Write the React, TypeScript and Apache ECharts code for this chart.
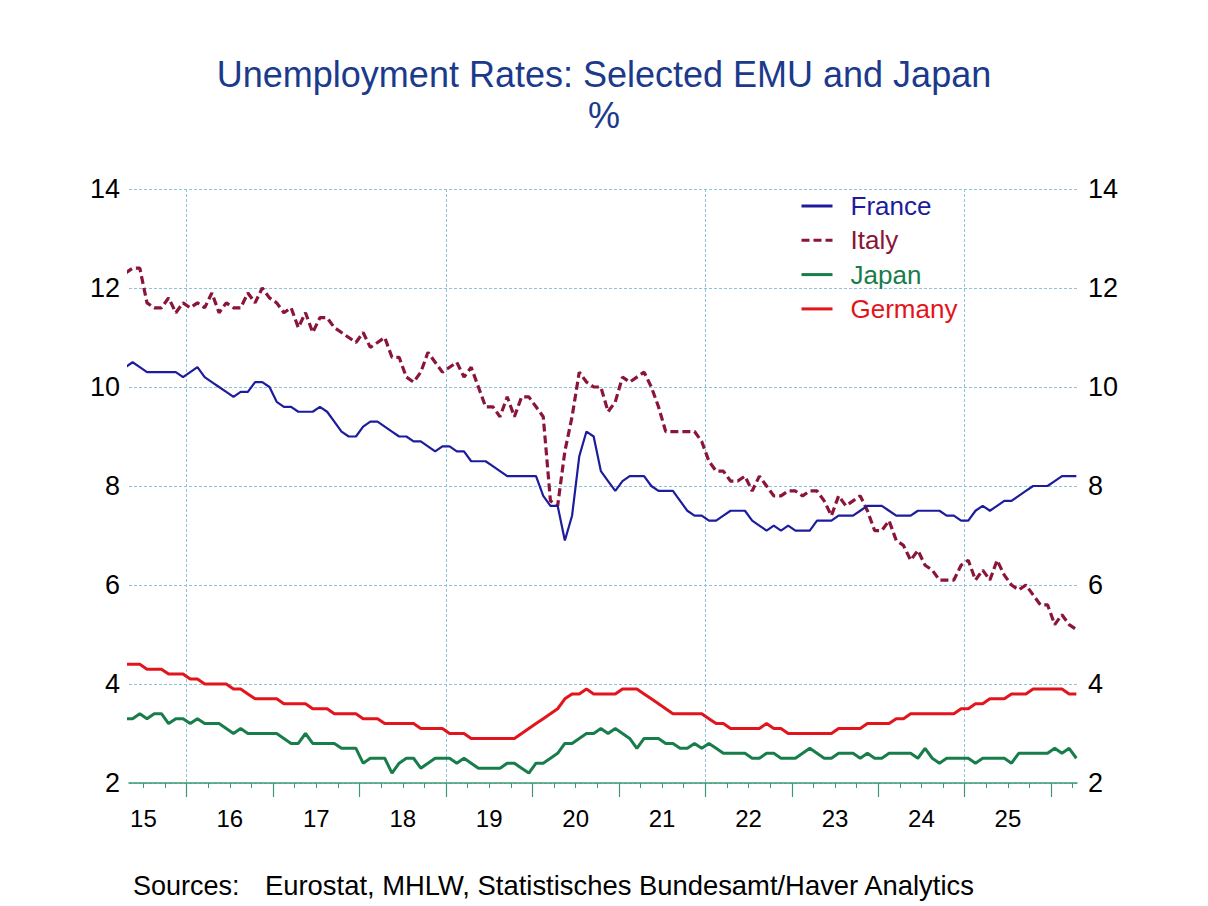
import React, { useEffect, useRef } from "react";
import * as echarts from "echarts";

// Monthly observations from Apr 2015 to Apr 2026 (percent)
const START_YEAR = 2015;
const START_MONTH = 4; // April

const france = [
  10.4, 10.5, 10.4, 10.3, 10.3, 10.3, 10.3, 10.3, 10.2, 10.3, 10.4, 10.2,
  10.1, 10.0, 9.9, 9.8, 9.9, 9.9, 10.1, 10.1, 10.0, 9.7, 9.6, 9.6,
  9.5, 9.5, 9.5, 9.6, 9.5, 9.3, 9.1, 9.0, 9.0, 9.2, 9.3, 9.3,
  9.2, 9.1, 9.0, 9.0, 8.9, 8.9, 8.8, 8.7, 8.8, 8.8, 8.7, 8.7,
  8.5, 8.5, 8.5, 8.4, 8.3, 8.2, 8.2, 8.2, 8.2, 8.2, 7.8, 7.6,
  7.6, 6.9, 7.4, 8.6, 9.1, 9.0, 8.3, 8.1, 7.9, 8.1, 8.2, 8.2,
  8.2, 8.0, 7.9, 7.9, 7.9, 7.7, 7.5, 7.4, 7.4, 7.3, 7.3, 7.4,
  7.5, 7.5, 7.5, 7.3, 7.2, 7.1, 7.2, 7.1, 7.2, 7.1, 7.1, 7.1,
  7.3, 7.3, 7.3, 7.4, 7.4, 7.4, 7.5, 7.6, 7.6, 7.6, 7.5, 7.4,
  7.4, 7.4, 7.5, 7.5, 7.5, 7.5, 7.4, 7.4, 7.3, 7.3, 7.5, 7.6,
  7.5, 7.6, 7.7, 7.7, 7.8, 7.9, 8.0, 8.0, 8.0, 8.1, 8.2, 8.2,
  8.2,
];

const italy = [
  12.3, 12.4, 12.4, 11.7, 11.6, 11.6, 11.8, 11.5, 11.7, 11.6, 11.7, 11.6,
  11.9, 11.5, 11.7, 11.6, 11.6, 11.9, 11.7, 12.0, 11.8, 11.7, 11.5, 11.6,
  11.2, 11.5, 11.1, 11.4, 11.4, 11.2, 11.1, 11.0, 10.9, 11.1, 10.8, 10.9,
  11.0, 10.6, 10.6, 10.2, 10.1, 10.3, 10.7, 10.5, 10.3, 10.4, 10.5, 10.2,
  10.4, 10.0, 9.6, 9.6, 9.4, 9.8, 9.4, 9.8, 9.8, 9.6, 9.4, 7.7,
  7.6, 8.7, 9.4, 10.3, 10.1, 10.0, 10.0, 9.5, 9.7, 10.2, 10.1, 10.2,
  10.3, 10.0, 9.6, 9.1, 9.1, 9.1, 9.1, 9.1, 8.9, 8.5, 8.3, 8.3,
  8.1, 8.1, 8.2, 7.9, 8.2, 8.0, 7.8, 7.8, 7.9, 7.9, 7.8, 7.9,
  7.9, 7.7, 7.4, 7.8, 7.6, 7.7, 7.8, 7.5, 7.1, 7.1, 7.3, 6.9,
  6.8, 6.5, 6.7, 6.4, 6.3, 6.1, 6.1, 6.1, 6.4, 6.5, 6.1, 6.3,
  6.1, 6.5, 6.2, 6.0, 5.9, 6.0, 5.8, 5.6, 5.6, 5.2, 5.4, 5.2,
  5.1,
];

const japan = [
  3.3, 3.3, 3.4, 3.3, 3.4, 3.4, 3.2, 3.3, 3.3, 3.2, 3.3, 3.2,
  3.2, 3.2, 3.1, 3.0, 3.1, 3.0, 3.0, 3.0, 3.0, 3.0, 2.9, 2.8,
  2.8, 3.0, 2.8, 2.8, 2.8, 2.8, 2.7, 2.7, 2.7, 2.4, 2.5, 2.5,
  2.5, 2.2, 2.4, 2.5, 2.5, 2.3, 2.4, 2.5, 2.5, 2.5, 2.4, 2.5,
  2.4, 2.3, 2.3, 2.3, 2.3, 2.4, 2.4, 2.3, 2.2, 2.4, 2.4, 2.5,
  2.6, 2.8, 2.8, 2.9, 3.0, 3.0, 3.1, 3.0, 3.1, 3.0, 2.9, 2.7,
  2.9, 2.9, 2.9, 2.8, 2.8, 2.7, 2.7, 2.8, 2.7, 2.8, 2.7, 2.6,
  2.6, 2.6, 2.6, 2.5, 2.5, 2.6, 2.6, 2.5, 2.5, 2.5, 2.6, 2.7,
  2.6, 2.5, 2.5, 2.6, 2.6, 2.6, 2.5, 2.6, 2.5, 2.5, 2.6, 2.6,
  2.6, 2.6, 2.5, 2.7, 2.5, 2.4, 2.5, 2.5, 2.5, 2.5, 2.4, 2.5,
  2.5, 2.5, 2.5, 2.4, 2.6, 2.6, 2.6, 2.6, 2.6, 2.7, 2.6, 2.7,
  2.5,
];

const germany = [
  4.4, 4.4, 4.4, 4.3, 4.3, 4.3, 4.2, 4.2, 4.2, 4.1, 4.1, 4.0,
  4.0, 4.0, 4.0, 3.9, 3.9, 3.8, 3.7, 3.7, 3.7, 3.7, 3.6, 3.6,
  3.6, 3.6, 3.5, 3.5, 3.5, 3.4, 3.4, 3.4, 3.4, 3.3, 3.3, 3.3,
  3.2, 3.2, 3.2, 3.2, 3.2, 3.1, 3.1, 3.1, 3.1, 3.0, 3.0, 3.0,
  2.9, 2.9, 2.9, 2.9, 2.9, 2.9, 2.9, 3.0, 3.1, 3.2, 3.3, 3.4,
  3.5, 3.7, 3.8, 3.8, 3.9, 3.8, 3.8, 3.8, 3.8, 3.9, 3.9, 3.9,
  3.8, 3.7, 3.6, 3.5, 3.4, 3.4, 3.4, 3.4, 3.4, 3.3, 3.2, 3.2,
  3.1, 3.1, 3.1, 3.1, 3.1, 3.2, 3.1, 3.1, 3.0, 3.0, 3.0, 3.0,
  3.0, 3.0, 3.0, 3.1, 3.1, 3.1, 3.1, 3.2, 3.2, 3.2, 3.2, 3.3,
  3.3, 3.4, 3.4, 3.4, 3.4, 3.4, 3.4, 3.4, 3.5, 3.5, 3.6, 3.6,
  3.7, 3.7, 3.7, 3.8, 3.8, 3.8, 3.9, 3.9, 3.9, 3.9, 3.9, 3.8,
  3.8,
];

const yearLabels = [2015, 2016, 2017, 2018, 2019, 2020, 2021, 2022, 2023, 2024, 2025];
const yearTicks = [2016, 2017, 2018, 2019, 2020, 2021, 2022, 2023, 2024, 2025, 2026];
const gridYears = [2016, 2019, 2022, 2025];
const yTicks = [2, 4, 6, 8, 10, 12, 14];

const TITLE = "Unemployment Rates: Selected EMU and Japan";
const SUBTITLE = "%";
const SOURCE_LABEL = "Sources:";
const SOURCE_TEXT = "Eurostat, MHLW, Statistisches Bundesamt/Haver Analytics";

const C_FR = "#1c1c9c";
const C_IT = "#8a1538";
const C_JP = "#177d4a";
const C_DE = "#e2141c";
const C_GRID = "#8fc3d9";
const C_AXIS = "#3c9a70";
const C_TITLE = "#1b3a8c";
const FONT = "'Liberation Sans', Arial, sans-serif";

const XMIN = 2015 + 4 / 12;
const XMAX = XMIN + 948 / 86.45;

function monthX(i: number): number {
  return START_YEAR + (START_MONTH - 1 + i + 0.5) / 12;
}

function pairs(vals: number[]): [number, number][] {
  return vals.map((v, i) => [monthX(i), v]);
}

export default function App() {
  const ref = useRef<HTMLDivElement>(null);

  useEffect(() => {
    if (!ref.current) return;
    const chart = echarts.init(ref.current, undefined, { renderer: "svg" });

    const quarterTicks: number[] = [];
    for (let y = 2015; y <= 2026; y++) {
      for (const q of [0.25, 0.5, 0.75]) {
        const v = y + q;
        if (v > XMIN && v < XMAX) quarterTicks.push(v);
      }
    }

    const baseX = {
      type: "value" as const,
      min: XMIN,
      max: XMAX,
      position: "bottom" as const,
      gridIndex: 0,
    };

    chart.setOption({
      animation: false,
      backgroundColor: "#ffffff",
      textStyle: { fontFamily: FONT },
      title: [
        {
          text: TITLE,
          left: "center",
          top: 51,
          textStyle: { fontSize: 36, fontWeight: "normal", color: C_TITLE, fontFamily: FONT },
        },
        {
          text: SUBTITLE,
          left: "center",
          top: 92,
          textStyle: { fontSize: 36, fontWeight: "normal", color: C_TITLE, fontFamily: FONT },
        },
      ],
      legend: {
        orient: "vertical",
        left: 800,
        top: 193,
        padding: 0,
        itemWidth: 31,
        itemHeight: 14,
        itemGap: 8.3,
        itemStyle: { opacity: 0 },
        lineStyle: { width: 3 },
        textStyle: { fontSize: 26, lineHeight: 26, fontFamily: FONT, padding: [0, 0, 0, 13] },
        data: [
          { name: "France", textStyle: { color: C_FR } },
          { name: "Italy", textStyle: { color: C_IT } },
          { name: "Japan", textStyle: { color: C_JP } },
          { name: "Germany", textStyle: { color: C_DE } },
        ],
      },
      grid: { left: 129, right: 131, top: 189, bottom: 123, containLabel: false },
      xAxis: [
        {
          ...baseX,
          axisLine: { show: true, onZero: false, lineStyle: { color: C_AXIS, width: 1.5 } },
          axisTick: {
            show: true,
            customValues: yearTicks,
            length: 14,
            lineStyle: { color: C_AXIS, width: 1.2 },
          },
          axisLabel: {
            show: true,
            customValues: yearLabels.map((y) => y + 0.5),
            formatter: (v: number) => String(Math.floor(v + 0.01)).slice(2),
            fontSize: 24,
            color: "#000",
            margin: 23,
            fontFamily: FONT,
          },
          splitLine: { show: false },
        },
        {
          ...baseX,
          axisLine: { show: false, onZero: false },
          axisTick: {
            show: true,
            customValues: quarterTicks,
            length: 5,
            lineStyle: { color: C_AXIS, width: 1 },
          },
          axisLabel: { show: false },
          splitLine: { show: false },
        },
        {
          ...baseX,
          axisLine: { show: false, onZero: false },
          axisTick: { show: false, customValues: gridYears },
          axisLabel: { show: false },
          splitLine: { show: true, lineStyle: { color: C_GRID, type: [3, 2], width: 1 } },
        },
      ],
      yAxis: [
        {
          type: "value",
          min: yTicks[0],
          max: yTicks[yTicks.length - 1],
          interval: 2,
          position: "left",
          axisLine: { show: false },
          axisTick: { show: false },
          axisLabel: { fontSize: 27, color: "#000", margin: 9, fontFamily: FONT },
          splitLine: { show: true, lineStyle: { color: C_GRID, type: [3, 2], width: 1 } },
        },
        {
          type: "value",
          min: yTicks[0],
          max: yTicks[yTicks.length - 1],
          interval: 2,
          position: "right",
          axisLine: { show: false },
          axisTick: { show: false },
          axisLabel: { fontSize: 27, color: "#000", margin: 11, fontFamily: FONT },
          splitLine: { show: false },
        },
      ],
      series: [
        {
          name: "Japan",
          type: "line",
          xAxisIndex: 0,
          yAxisIndex: 0,
          data: pairs(japan),
          showSymbol: false,
          symbol: "none",
          color: C_JP,
          lineStyle: { color: C_JP, width: 3 },
          z: 3,
        },
        {
          name: "Germany",
          type: "line",
          xAxisIndex: 0,
          yAxisIndex: 0,
          data: pairs(germany),
          showSymbol: false,
          symbol: "none",
          color: C_DE,
          lineStyle: { color: C_DE, width: 3 },
          z: 3,
        },
        {
          name: "Italy",
          type: "line",
          xAxisIndex: 0,
          yAxisIndex: 0,
          data: pairs(italy),
          showSymbol: false,
          symbol: "none",
          color: C_IT,
          lineStyle: { color: C_IT, width: 3.2, type: [8, 4] },
          z: 3,
        },
        {
          name: "France",
          type: "line",
          xAxisIndex: 0,
          yAxisIndex: 0,
          data: pairs(france),
          showSymbol: false,
          symbol: "none",
          color: C_FR,
          lineStyle: { color: C_FR, width: 2.2 },
          z: 4,
        },
      ],
      graphic: [
        {
          type: "text",
          left: 133,
          top: 872,
          style: { text: SOURCE_LABEL, fill: "#000", font: `27px ${FONT}` },
        },
        {
          type: "text",
          left: 265,
          top: 872,
          style: { text: SOURCE_TEXT, fill: "#000", font: `27.4px ${FONT}` },
        },
      ],
    });

    return () => chart.dispose();
  }, []);

  return (
    <div
      ref={ref}
      style={{ position: "absolute", left: 0, top: 0, width: 1208, height: 906, background: "#fff" }}
    />
  );
}
